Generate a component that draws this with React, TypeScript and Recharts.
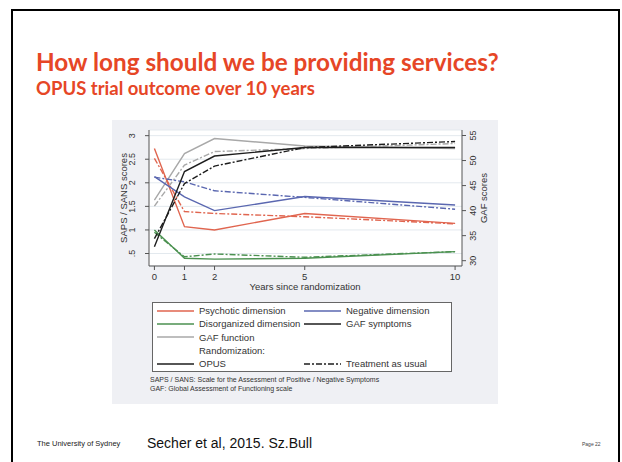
import React from "react";
import { LineChart, Line, XAxis, YAxis, CartesianGrid } from "recharts";

// years since randomization
const years = [0, 1, 2, 5, 10];

// SAPS / SANS scores (left axis)
const psychoticOpus = [2.73, 1.07, 1.0, 1.35, 1.14];
const psychoticTau = [2.52, 1.39, 1.35, 1.28, 1.13];
const negativeOpus = [2.13, 1.7, 1.41, 1.71, 1.53];
const negativeTau = [2.12, 2.02, 1.83, 1.69, 1.44];
const disorgOpus = [1.0, 0.4, 0.38, 0.4, 0.54];
const disorgTau = [0.95, 0.43, 0.49, 0.42, 0.54];

// GAF scores (right axis)
const gafSympOpus = [32.8, 47.8, 50.9, 52.6, 52.6];
const gafSympTau = [34.4, 45.4, 48.9, 52.6, 53.8];
const gafFuncOpus = [42.1, 51.4, 54.4, 52.9, 52.4];
const gafFuncTau = [40.9, 49.1, 51.8, 52.4, 53.4];

const leftTicks = [0.5, 1, 1.5, 2, 2.5, 3];
const rightTicks = [30, 35, 40, 45, 50, 55];
const xTicks = [0, 1, 2, 5, 10];

const data = years.map((year, i) => ({
  year,
  psyO: psychoticOpus[i],
  psyT: psychoticTau[i],
  negO: negativeOpus[i],
  negT: negativeTau[i],
  disO: disorgOpus[i],
  disT: disorgTau[i],
  gsO: gafSympOpus[i],
  gsT: gafSympTau[i],
  gfO: gafFuncOpus[i],
  gfT: gafFuncTau[i],
}));

const RED = "#e0654f";
const BLUE = "#5a67b0";
const GREEN = "#4b9150";
const BLACK = "#1e1e1e";
const GRAY = "#a8a8a8";
const DASH = "6 2 2 2";
const AXIS = "#555";
const FONT = "Arial, 'Liberation Sans', sans-serif";
const TITLE_FONT = "Lato, 'Open Sans', sans-serif";

const LeftTick = ({ y, payload }: any) => (
  <text
    x={23.5}
    y={y}
    transform={`rotate(-90 23.5 ${y})`}
    textAnchor="middle"
    fontSize={9}
    fill="#333"
    fontFamily={FONT}
  >
    {payload.value === 0.5 ? ".5" : payload.value}
  </text>
);

const RightTick = ({ y, payload }: any) => (
  <text
    x={364}
    y={y}
    transform={`rotate(-90 364 ${y})`}
    textAnchor="middle"
    fontSize={9}
    fill="#333"
    fontFamily={FONT}
  >
    {payload.value}
  </text>
);

const legendRows = [
  [
    { label: "Psychotic dimension", color: RED, dash: undefined },
    { label: "Negative dimension", color: BLUE, dash: undefined },
  ],
  [
    { label: "Disorganized dimension", color: GREEN, dash: undefined },
    { label: "GAF symptoms", color: BLACK, dash: undefined },
  ],
  [{ label: "GAF function", color: GRAY, dash: undefined }],
  [{ label: "Randomization:", color: null, dash: undefined }],
  [
    { label: "OPUS", color: BLACK, dash: undefined },
    { label: "Treatment as usual", color: BLACK, dash: DASH },
  ],
];

function LegendItem({ item }: any) {
  return (
    <div style={{ display: "flex", alignItems: "center", width: 165 }}>
      <svg width={37} height={6} style={{ marginRight: 5 }}>
        {item.color && (
          <line x1={0} y1={3} x2={37} y2={3} stroke={item.color} strokeWidth={1.3} strokeDasharray={item.dash} />
        )}
      </svg>
      <span>{item.label}</span>
    </div>
  );
}

export default function App() {
  const lineProps = { type: "linear" as const, dot: false, isAnimationActive: false, strokeWidth: 1.4 };
  return (
    <div style={{ position: "relative", width: 622, height: 462, background: "#fff", overflow: "hidden", fontFamily: FONT }}>
      <style>{`body{margin:0}`}</style>
      <div style={{ position: "absolute", left: 11, top: 9, width: 605, height: 470, border: "2px solid #000" }} />

      <div style={{ position: "absolute", left: 36, top: 47, color: "#e64626", fontFamily: TITLE_FONT, fontWeight: 700, fontSize: 24.3, whiteSpace: "nowrap" }}>
        How long should we be providing services?
      </div>
      <div style={{ position: "absolute", left: 36, top: 77, color: "#e64626", fontFamily: TITLE_FONT, fontWeight: 700, fontSize: 18.5, whiteSpace: "nowrap" }}>
        OPUS trial outcome over 10 years
      </div>

      {/* chart image */}
      <div style={{ position: "absolute", left: 112, top: 120, width: 386, height: 284, background: "#eff0f4" }}>
        <LineChart width={386} height={176} data={data} margin={{ top: 10, right: 6, left: 7, bottom: 0 }}>
          <CartesianGrid yAxisId="left" vertical={false} stroke="#e3e9ee" fill="#fff" />
          <XAxis
            dataKey="year"
            type="number"
            domain={[-0.18, 10.23]}
            ticks={xTicks}
            allowDataOverflow
            height={30}
            stroke={AXIS}
            tickSize={4}
            tickMargin={3}
            tick={{ fontSize: 9.5, fill: "#333", fontFamily: FONT }}
          />
          <YAxis
            yAxisId="left"
            domain={[0.235, 3.12]}
            ticks={leftTicks}
            allowDataOverflow
            width={30}
            stroke={AXIS}
            tickSize={4}
            tick={<LeftTick />}
          />
          <YAxis
            yAxisId="right"
            orientation="right"
            domain={[28.94, 56.1]}
            ticks={rightTicks}
            allowDataOverflow
            width={30}
            stroke={AXIS}
            tickSize={4}
            tick={<RightTick />}
          />
          <Line yAxisId="right" dataKey="gfO" stroke={GRAY} {...lineProps} />
          <Line yAxisId="right" dataKey="gfT" stroke={GRAY} strokeDasharray={DASH} {...lineProps} />
          <Line yAxisId="left" dataKey="psyO" stroke={RED} {...lineProps} />
          <Line yAxisId="left" dataKey="psyT" stroke={RED} strokeDasharray={DASH} {...lineProps} />
          <Line yAxisId="left" dataKey="negO" stroke={BLUE} {...lineProps} />
          <Line yAxisId="left" dataKey="negT" stroke={BLUE} strokeDasharray={DASH} {...lineProps} />
          <Line yAxisId="left" dataKey="disO" stroke={GREEN} {...lineProps} />
          <Line yAxisId="left" dataKey="disT" stroke={GREEN} strokeDasharray={DASH} {...lineProps} />
          <Line yAxisId="right" dataKey="gsO" stroke={BLACK} {...lineProps} />
          <Line yAxisId="right" dataKey="gsT" stroke={BLACK} strokeDasharray={DASH} {...lineProps} />
        </LineChart>

        {/* axis titles */}
        <svg width={386} height={176} style={{ position: "absolute", left: 0, top: 0, pointerEvents: "none" }}>
          <text x={15} y={78} transform="rotate(-90 15 78)" textAnchor="middle" fontSize={9.5} fill="#333" fontFamily={FONT}>
            SAPS / SANS scores
          </text>
          <text x={375} y={78} transform="rotate(-90 375 78)" textAnchor="middle" fontSize={9.5} fill="#333" fontFamily={FONT}>
            GAF scores
          </text>
          <text x={193} y={170} textAnchor="middle" fontSize={9.5} fill="#333" fontFamily={FONT}>
            Years since randomization
          </text>
        </svg>

        <div style={{ position: "absolute", left: 40, top: 182, width: 300, height: 70, background: "#fff", border: "1px solid #666", boxSizing: "border-box", padding: "1px 0 0 4px", fontSize: 9.5, color: "#333", lineHeight: "13.3px" }}>
          {legendRows.map((row, i) => (
            <div key={i} style={{ display: "flex" }}>
              {row.map((item) => (
                <LegendItem key={item.label} item={item} />
              ))}
            </div>
          ))}
        </div>

        <div style={{ position: "absolute", left: 38, top: 256, fontSize: 7, color: "#333", lineHeight: "8.5px" }}>
          <div>SAPS / SANS: Scale for the Assessment of Positive / Negative Symptoms</div>
          <div>GAF: Global Assessment of Functioning scale</div>
        </div>
      </div>

      <div style={{ position: "absolute", left: 37, top: 439, fontSize: 7.5, color: "#222" }}>The University of Sydney</div>
      <div style={{ position: "absolute", left: 147, top: 435, fontSize: 14, color: "#111" }}>Secher et al, 2015. Sz.Bull</div>
      <div style={{ position: "absolute", left: 582, top: 441, fontSize: 5, color: "#444" }}>Page 22</div>
    </div>
  );
}
